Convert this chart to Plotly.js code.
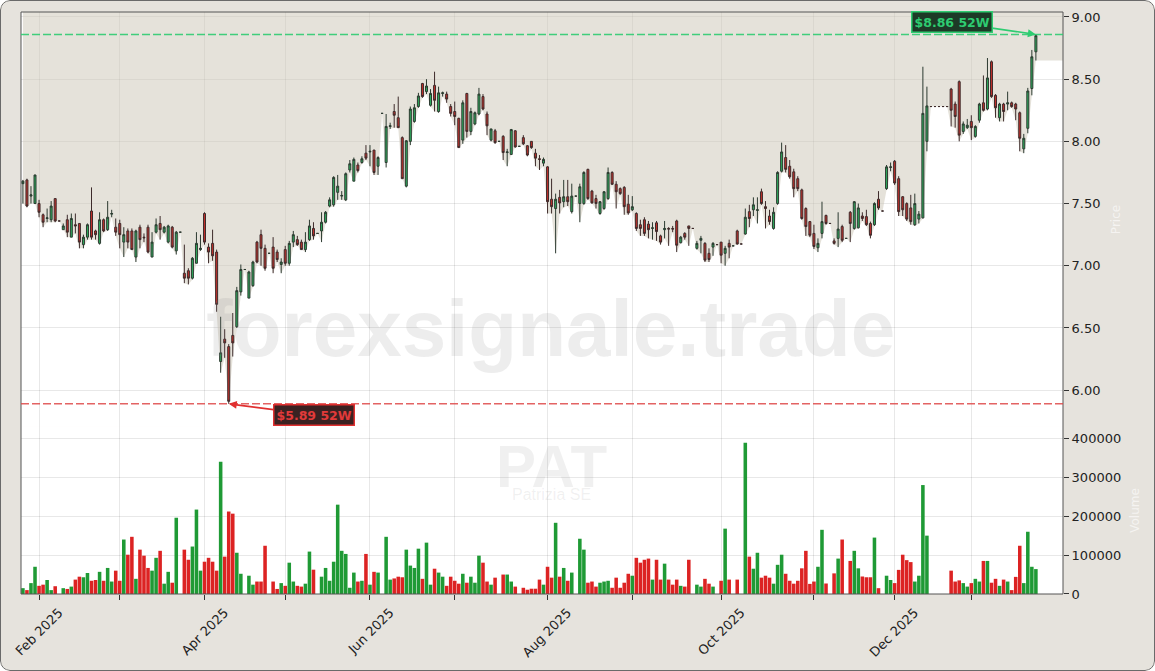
<!DOCTYPE html>
<html>
<head>
<meta charset="utf-8">
<script src="https://cdn.plot.ly/plotly-3.0.1.min.js"></script>
<style>
  html,body{margin:0;padding:0;background:#ffffff;}
  #wrap{position:relative;width:1155px;height:671px;border-radius:10px;overflow:hidden;}
  #chart{width:1155px;height:671px;}
  #frame{position:absolute;left:0;top:0;right:0;bottom:0;border:1.5px solid #6a6a6a;border-radius:10px;pointer-events:none;}
</style>
</head>
<body>
<div id="wrap"><div id="chart"></div><div id="frame"></div></div>
<script>
// ---- data ----
const START_DATE = '2025-01-28';
const HOLIDAYS = ['2025-04-18','2025-04-21','2025-05-01','2025-12-24','2025-12-25','2025-12-26','2025-12-31','2026-01-01'];

const OPEN = [7.66,7.69,7.56,7.50,7.50,7.41,7.38,7.37,7.54,7.36,
7.29,7.37,7.23,7.33,7.34,7.17,7.23,7.44,7.28,7.18,
7.37,7.29,7.415,7.31,7.34,7.19,7.28,7.28,7.07,7.31,
7.23,7.31,7.07,7.27,7.34,7.27,7.19,7.31,7.12,7.27,
6.94,6.96,6.90,7.02,7.13,7.42,7.15,7.18,7.11,6.23,
6.41,6.35,6.44,6.51,6.79,6.97,6.74,6.84,7.19,7.25,
7.14,7.10,7.15,7.11,7.01,7.13,7.02,7.19,7.21,7.19,
7.13,7.21,7.30,7.26,7.28,7.35,7.48,7.49,7.59,7.56,
7.53,7.77,7.68,7.81,7.83,7.905,7.915,7.93,7.80,8.225,
7.83,8.12,8.24,8.19,8.03,7.64,8.00,8.16,8.28,8.465,
8.40,8.29,8.45,8.24,8.385,8.38,8.28,8.24,8.185,8.01,
8.385,8.08,8.14,8.22,8.36,8.22,8.01,8.085,8.00,8.04,
7.91,7.895,8.085,7.96,8.03,7.965,8.00,7.905,7.86,7.825,
7.795,7.535,7.46,7.55,7.515,7.555,7.435,7.56,7.50,7.50,
7.775,7.60,7.54,7.42,7.46,7.54,7.75,7.655,7.62,7.63,
7.495,7.45,7.42,7.33,7.37,7.335,7.30,7.345,7.24,7.29,
7.30,7.30,7.36,7.185,7.26,7.32,7.30,7.14,7.205,7.18,
7.10,7.15,7.17,7.19,7.10,7.18,7.16,7.28,7.175,7.255,
7.435,7.45,7.445,7.595,7.475,7.40,7.30,7.50,7.76,7.87,
7.80,7.755,7.70,7.61,7.46,7.355,7.26,7.145,7.26,7.405,
7.34,7.20,7.22,7.315,7.22,7.43,7.30,7.305,7.40,7.395,
7.34,7.33,7.535,7.44,7.62,7.79,7.84,7.70,7.555,7.50,
7.465,7.33,7.375,7.385,8.00,8.28,8.28,8.28,8.28,8.28,
8.42,8.30,8.48,8.08,8.11,8.16,8.04,8.17,8.31,8.26,
8.64,8.37,8.19,8.30,8.30,8.31,8.30,8.23,7.94,8.105,
8.425,8.72];

const HIGH = [7.69,7.70,7.64,7.73,7.53,7.42,7.46,7.52,7.54,7.36,
7.34,7.41,7.42,7.42,7.34,7.25,7.34,7.63,7.29,7.43,
7.38,7.52,7.45,7.38,7.37,7.31,7.30,7.30,7.29,7.33,
7.26,7.33,7.27,7.38,7.40,7.32,7.33,7.32,7.28,7.27,
7.17,6.98,7.07,7.27,7.25,7.43,7.18,7.29,7.13,6.59,
6.49,6.37,6.62,6.83,7.01,6.97,6.96,7.04,7.20,7.29,
7.17,7.10,7.23,7.13,7.06,7.16,7.20,7.28,7.24,7.21,
7.27,7.37,7.35,7.26,7.43,7.44,7.55,7.72,7.73,7.60,
7.75,7.85,7.87,7.83,7.88,7.97,7.97,7.93,7.88,8.225,
8.22,8.15,8.30,8.36,8.04,8.01,8.28,8.30,8.39,8.47,
8.50,8.42,8.56,8.44,8.40,8.40,8.30,8.32,8.19,8.33,
8.39,8.27,8.24,8.43,8.38,8.24,8.10,8.10,8.00,8.05,
7.94,8.10,8.09,7.96,8.05,7.97,8.00,7.94,7.89,7.87,
7.80,7.70,7.58,7.61,7.69,7.69,7.66,7.56,7.66,7.76,
7.78,7.61,7.57,7.52,7.60,7.79,7.76,7.68,7.63,7.64,
7.57,7.56,7.43,7.37,7.39,7.36,7.35,7.36,7.25,7.36,
7.31,7.32,7.37,7.24,7.27,7.32,7.30,7.20,7.24,7.19,
7.14,7.19,7.17,7.19,7.16,7.21,7.16,7.29,7.175,7.46,
7.49,7.55,7.55,7.62,7.52,7.45,7.47,7.76,7.99,7.97,
7.85,7.78,7.72,7.62,7.47,7.36,7.33,7.22,7.515,7.41,
7.34,7.22,7.43,7.33,7.22,7.44,7.52,7.50,7.43,7.45,
7.355,7.51,7.60,7.44,7.81,7.83,7.85,7.72,7.56,7.51,
7.57,7.58,7.44,8.60,8.44,8.28,8.28,8.28,8.28,8.28,
8.43,8.32,8.49,8.16,8.18,8.21,8.13,8.31,8.53,8.67,
8.65,8.38,8.31,8.31,8.40,8.32,8.31,8.24,8.06,8.43,
8.735,8.86];

const LOW = [7.50,7.47,7.50,7.50,7.39,7.31,7.35,7.35,7.35,7.36,
7.29,7.23,7.23,7.26,7.14,7.14,7.21,7.21,7.21,7.17,
7.27,7.28,7.39,7.24,7.14,7.07,7.14,7.13,7.03,7.14,
7.19,7.10,7.07,7.26,7.21,7.26,7.18,7.14,7.09,7.27,
6.86,6.85,6.89,7.02,7.12,7.17,7.02,7.04,6.63,6.14,
6.26,5.89,6.27,6.50,6.76,6.97,6.74,6.83,7.02,7.00,
6.96,7.10,6.94,7.03,6.94,7.00,7.00,7.15,7.16,7.13,
7.11,7.20,7.21,7.26,7.19,7.34,7.47,7.475,7.53,7.53,
7.52,7.75,7.68,7.75,7.82,7.85,7.80,7.73,7.73,8.225,
7.79,8.10,8.11,8.11,7.70,7.63,7.97,8.15,8.27,8.35,
8.38,8.28,8.24,8.23,8.36,8.31,8.20,8.13,7.95,7.98,
8.03,8.05,8.13,8.21,8.25,8.05,8.00,7.98,8.00,7.85,
7.80,7.89,7.95,7.96,7.97,7.88,7.94,7.80,7.77,7.80,
7.42,7.42,7.10,7.42,7.47,7.48,7.42,7.56,7.35,7.49,
7.53,7.50,7.46,7.41,7.45,7.53,7.65,7.46,7.57,7.41,
7.41,7.44,7.28,7.24,7.24,7.22,7.21,7.20,7.17,7.22,
7.16,7.27,7.11,7.18,7.21,7.16,7.30,7.13,7.10,7.03,
7.03,7.08,7.17,7.02,7.00,7.06,7.16,7.17,7.175,7.25,
7.31,7.40,7.34,7.49,7.30,7.33,7.29,7.49,7.75,7.75,
7.70,7.55,7.60,7.37,7.24,7.23,7.135,7.11,7.22,7.33,
7.34,7.17,7.15,7.19,7.22,7.19,7.29,7.30,7.36,7.32,
7.22,7.32,7.45,7.44,7.61,7.76,7.65,7.40,7.40,7.36,
7.33,7.32,7.34,7.38,7.92,8.28,8.28,8.28,8.28,8.28,
8.12,8.11,8.00,8.06,8.10,8.01,8.03,8.15,8.24,8.25,
8.35,8.19,8.16,8.16,8.25,8.27,8.17,7.92,7.905,8.065,
8.37,8.65];

const CLOSE = [7.68,7.48,7.57,7.73,7.43,7.35,7.385,7.48,7.36,7.36,
7.32,7.27,7.38,7.32,7.19,7.23,7.33,7.23,7.25,7.37,
7.28,7.39,7.42,7.27,7.25,7.25,7.19,7.13,7.28,7.21,
7.225,7.11,7.19,7.33,7.29,7.31,7.32,7.15,7.27,7.27,
6.90,6.90,7.06,7.18,7.14,7.19,7.11,7.08,6.69,6.30,
6.38,5.91,6.38,6.80,6.97,6.97,6.95,7.03,7.03,7.14,
6.98,7.10,6.98,7.05,7.03,7.02,7.18,7.25,7.17,7.13,
7.19,7.32,7.24,7.26,7.35,7.43,7.53,7.71,7.64,7.565,
7.74,7.82,7.855,7.765,7.86,7.865,7.92,7.75,7.87,8.225,
8.12,8.125,8.21,8.11,7.70,8.005,8.26,8.27,8.365,8.36,
8.445,8.385,8.33,8.39,8.39,8.34,8.225,8.20,7.95,8.31,
8.08,8.24,8.23,8.38,8.26,8.125,8.10,7.99,8.00,7.91,
7.915,8.095,7.955,7.96,7.98,7.89,7.95,7.865,7.855,7.855,
7.515,7.475,7.535,7.505,7.555,7.515,7.56,7.56,7.635,7.75,
7.54,7.505,7.50,7.515,7.595,7.75,7.655,7.595,7.58,7.475,
7.425,7.475,7.30,7.30,7.26,7.29,7.305,7.275,7.19,7.30,
7.295,7.295,7.165,7.23,7.23,7.30,7.30,7.18,7.22,7.045,
7.05,7.18,7.17,7.085,7.14,7.15,7.16,7.175,7.175,7.39,
7.38,7.49,7.45,7.50,7.46,7.355,7.43,7.75,7.915,7.775,
7.715,7.62,7.62,7.38,7.315,7.245,7.155,7.18,7.355,7.34,
7.34,7.18,7.295,7.205,7.22,7.34,7.515,7.465,7.38,7.33,
7.245,7.50,7.465,7.44,7.795,7.795,7.665,7.435,7.45,7.375,
7.355,7.50,7.415,8.225,8.285,8.28,8.28,8.28,8.28,8.28,
8.25,8.20,8.05,8.14,8.13,8.11,8.12,8.30,8.25,8.51,
8.36,8.27,8.30,8.24,8.31,8.28,8.26,8.025,8.025,8.405,
8.68,8.85];

const VOLUME = [15000,10000,28000,70000,21000,24000,36000,10000,20000,0,
15000,13000,19000,37000,44500,43000,54000,34000,36000,57000,
34000,67000,32000,60000,34000,140000,101000,147000,39000,114000,
98500,67000,60000,93000,111000,26500,57000,29000,196000,0,
114000,88000,122000,217000,60000,83000,93000,83000,60000,340000,
96000,212000,206500,106000,52000,0,47000,24000,32000,32000,
124000,0,32000,13000,28000,21000,80500,32000,21000,19000,
26500,109000,62500,0,44500,67000,34000,83000,229600,111000,
103000,16000,55000,32000,34000,103000,24000,57000,55000,0,
147000,37000,40000,44500,43000,114000,73000,67000,116500,39000,
132000,24000,65000,55000,44500,21000,44500,34000,26500,52000,
29000,44500,29000,98500,80500,32000,24000,42000,0,50000,
50000,32000,19000,0,16000,11000,13600,13600,37000,24000,
70000,42000,183000,44500,67000,34000,55000,0,142000,114000,
29000,32000,19000,29000,32000,34000,16000,42000,16000,29000,
52000,47000,93000,80500,88000,91000,37000,88000,37000,78000,
37000,24000,37000,21000,19000,88000,0,24000,19000,39000,
26500,19000,0,34000,168000,37000,0,37000,0,389000,
96000,65000,106000,42000,47000,42000,26500,75000,101000,52000,
34000,26500,34000,66000,111000,26000,32000,70000,165000,27000,
0,53000,91000,140000,0,85000,111000,66000,45000,43000,
43000,145000,15000,0,47000,36000,28000,62000,101000,87000,
82000,32000,47000,280000,150000,0,0,0,0,0,
60000,32000,35000,28000,19000,28000,39000,32000,85000,85000,
29000,39000,21000,37000,32000,10000,44000,124000,28000,160000,
70000,64000];

const TICK_VALS = ['2025-02-03','2025-03-03','2025-04-01','2025-05-02','2025-06-02','2025-07-01',
                   '2025-08-01','2025-09-01','2025-10-01','2025-11-03','2025-12-01','2026-01-02'];
const TICK_TEXT = ['Feb 2025','','Apr 2025','','Jun 2025','','Aug 2025','','Oct 2025','','Dec 2025',''];

const TICKER = 'PAT';
const COMPANY = 'Patrizia SE';
const WATERMARK = 'forexsignale.trade';

// ---- layout constants ----
const X_RANGE = ['2025-01-27 12:40', '2026-02-03 17:15'];
const Y_RANGE = [5.704, 9.040];
const V_RANGE = [0, 429300];

// trading dates (weekdays without exchange holidays)
function tradingDates(start, n, holidays) {
  const out = [];
  const d = new Date(start + 'T00:00:00Z');
  while (out.length < n) {
    const wd = d.getUTCDay();
    const iso = d.toISOString().slice(0, 10);
    if (wd !== 0 && wd !== 6 && holidays.indexOf(iso) < 0) out.push(iso);
    d.setUTCDate(d.getUTCDate() + 1);
  }
  return out;
}
const DATES = tradingDates(START_DATE, CLOSE.length, HOLIDAYS);

const GREEN_VOL = '#1f9a35', RED_VOL = '#dc2323';
const volColors = CLOSE.map((c, i) => c >= OPEN[i] ? GREEN_VOL : RED_VOL);

const hi = Math.max.apply(null, HIGH), iHi = HIGH.indexOf(hi);
const lo = Math.min.apply(null, LOW), iLo = LOW.indexOf(lo);

const fillX = DATES.concat([X_RANGE[1]]);
const fillLow = LOW.concat([LOW[LOW.length - 1]]);
const fillTop = fillLow.map(() => Y_RANGE[1]);

const traces = [
  // beige area above the lows (base subplot, drawn beneath the candles)
  {x: fillX, y: fillLow, type: 'scatter', mode: 'lines', line: {width: 0, color: 'rgba(0,0,0,0)'},
   hoverinfo: 'skip', xaxis: 'x', yaxis: 'y'},
  {x: fillX, y: fillTop, type: 'scatter', mode: 'lines', line: {width: 0, color: 'rgba(0,0,0,0)'},
   fill: 'tonexty', fillcolor: 'rgba(205,199,185,0.52)', hoverinfo: 'skip', xaxis: 'x', yaxis: 'y'},
  // candles on an overlaying axis so they sit above the fill
  {x: DATES, open: OPEN, high: HIGH, low: LOW, close: CLOSE, type: 'candlestick',
   xaxis: 'x', yaxis: 'y3', whiskerwidth: 0, hoverinfo: 'skip',
   increasing: {line: {color: '#2c3a30', width: 1}, fillcolor: '#2eaa5c'},
   decreasing: {line: {color: '#3d2b2b', width: 1}, fillcolor: '#c0302b'}},
  {x: DATES, y: VOLUME, type: 'bar', marker: {color: volColors, line: {width: 0}},
   xaxis: 'x', yaxis: 'y2', hoverinfo: 'skip'}
];

const FONT = 'DejaVu Sans, sans-serif';
const GRID = 'rgba(0,0,0,0.09)';

const layout = {
  width: 1155, height: 671,
  margin: {l: 21, r: 92, t: 12, b: 77},
  paper_bgcolor: '#e6e3dd',
  plot_bgcolor: '#ffffff',
  showlegend: false,
  hovermode: false,
  bargap: 0.12,
  font: {family: FONT, size: 13, color: '#222'},
  xaxis: {
    type: 'date', range: X_RANGE, anchor: 'y2',
    rangebreaks: [{bounds: ['sat', 'mon']}, {values: HOLIDAYS}],
    tickvals: TICK_VALS, ticktext: TICK_TEXT, tickangle: -45,
    ticks: 'outside', ticklen: 5, tickcolor: '#333', ticklabelshift: 20,
    tickfont: {size: 13, color: '#222'},
    showgrid: true, gridcolor: GRID, showline: false, zeroline: false,
    rangeslider: {visible: false}
  },
  yaxis: {
    domain: [0.287, 1], range: Y_RANGE, side: 'right', anchor: 'x',
    dtick: 0.5, tick0: 6, tickformat: '.2f',
    ticks: 'outside', ticklen: 5, tickcolor: '#333',
    tickfont: {size: 13, color: '#222'},
    showgrid: true, gridcolor: GRID, zeroline: false, showline: false,
    title: {text: 'Price', font: {size: 12, color: 'rgba(255,255,255,0.6)'}, standoff: 12}
  },
  yaxis3: {
    overlaying: 'y', range: Y_RANGE, side: 'right', anchor: 'x',
    showgrid: false, showticklabels: false, ticks: '', zeroline: false, showline: false
  },
  yaxis2: {
    domain: [0, 0.287], range: V_RANGE, side: 'right', anchor: 'x',
    dtick: 100000, tickformat: 'd',
    ticks: 'outside', ticklen: 5, tickcolor: '#333',
    tickfont: {size: 13, color: '#222'},
    showgrid: true, gridcolor: GRID, zeroline: false, showline: false,
    title: {text: 'Volume', font: {size: 12, color: 'rgba(255,255,255,0.6)'}, standoff: 10}
  },
  shapes: [
    {type: 'rect', xref: 'paper', yref: 'paper', x0: 0, x1: 1, y0: 0, y1: 1,
     line: {color: '#555', width: 1}, fillcolor: 'rgba(0,0,0,0)', layer: 'above'},
    {type: 'line', xref: 'paper', x0: 0, x1: 1, yref: 'y', y0: hi, y1: hi,
     line: {color: 'rgba(46,204,113,0.9)', width: 1.5, dash: '8px,3px'}, layer: 'above'},
    {type: 'line', xref: 'paper', x0: 0, x1: 1, yref: 'y', y0: lo, y1: lo,
     line: {color: 'rgba(222,72,72,0.85)', width: 1.5, dash: '8px,3px'}, layer: 'above'}
  ],
  annotations: [
    {xref: 'paper', yref: 'paper', x: 0.508, y: 0.457, yanchor: 'middle', xanchor: 'center',
     text: '<b>' + WATERMARK + '</b>', showarrow: false,
     font: {family: 'Liberation Sans, Arial, sans-serif', size: 80, color: 'rgba(140,140,140,0.16)'}},
    {xref: 'paper', yref: 'paper', x: 0.509, y: 0.2165, yanchor: 'middle', xanchor: 'center',
     text: '<span style="font-size:60px"><b>' + TICKER + '</b></span><br>' +
           '<span style="font-size:16px">' + COMPANY + '</span>',
     showarrow: false,
     font: {family: 'Liberation Sans, Arial, sans-serif', size: 10, color: 'rgba(140,140,140,0.13)'}},
    {x: DATES[iHi], y: hi, xref: 'x', yref: 'y', text: '<b>$' + hi.toFixed(2) + ' 52W</b>',
     showarrow: true, ax: -84, ay: -12, arrowhead: 2, arrowsize: 1, arrowwidth: 1.6, arrowcolor: '#2ecc71',
     font: {family: FONT, size: 12.5, color: '#2ecc71'}, bgcolor: '#1d3a27', bordercolor: '#2ecc71',
     borderwidth: 1.5, borderpad: 2},
    {x: DATES[iLo], y: lo, xref: 'x', yref: 'y', text: '<b>$' + lo.toFixed(2) + ' 52W</b>',
     showarrow: true, ax: 85, ay: 11, arrowhead: 2, arrowsize: 1, arrowwidth: 1.6, arrowcolor: '#e03030',
     font: {family: FONT, size: 12.5, color: '#e23a3a'}, bgcolor: '#3a2222', bordercolor: '#e03030',
     borderwidth: 1.5, borderpad: 2}
  ]
};

Plotly.newPlot('chart', traces, layout, {displayModeBar: false, staticPlot: true});
</script>
</body>
</html>
